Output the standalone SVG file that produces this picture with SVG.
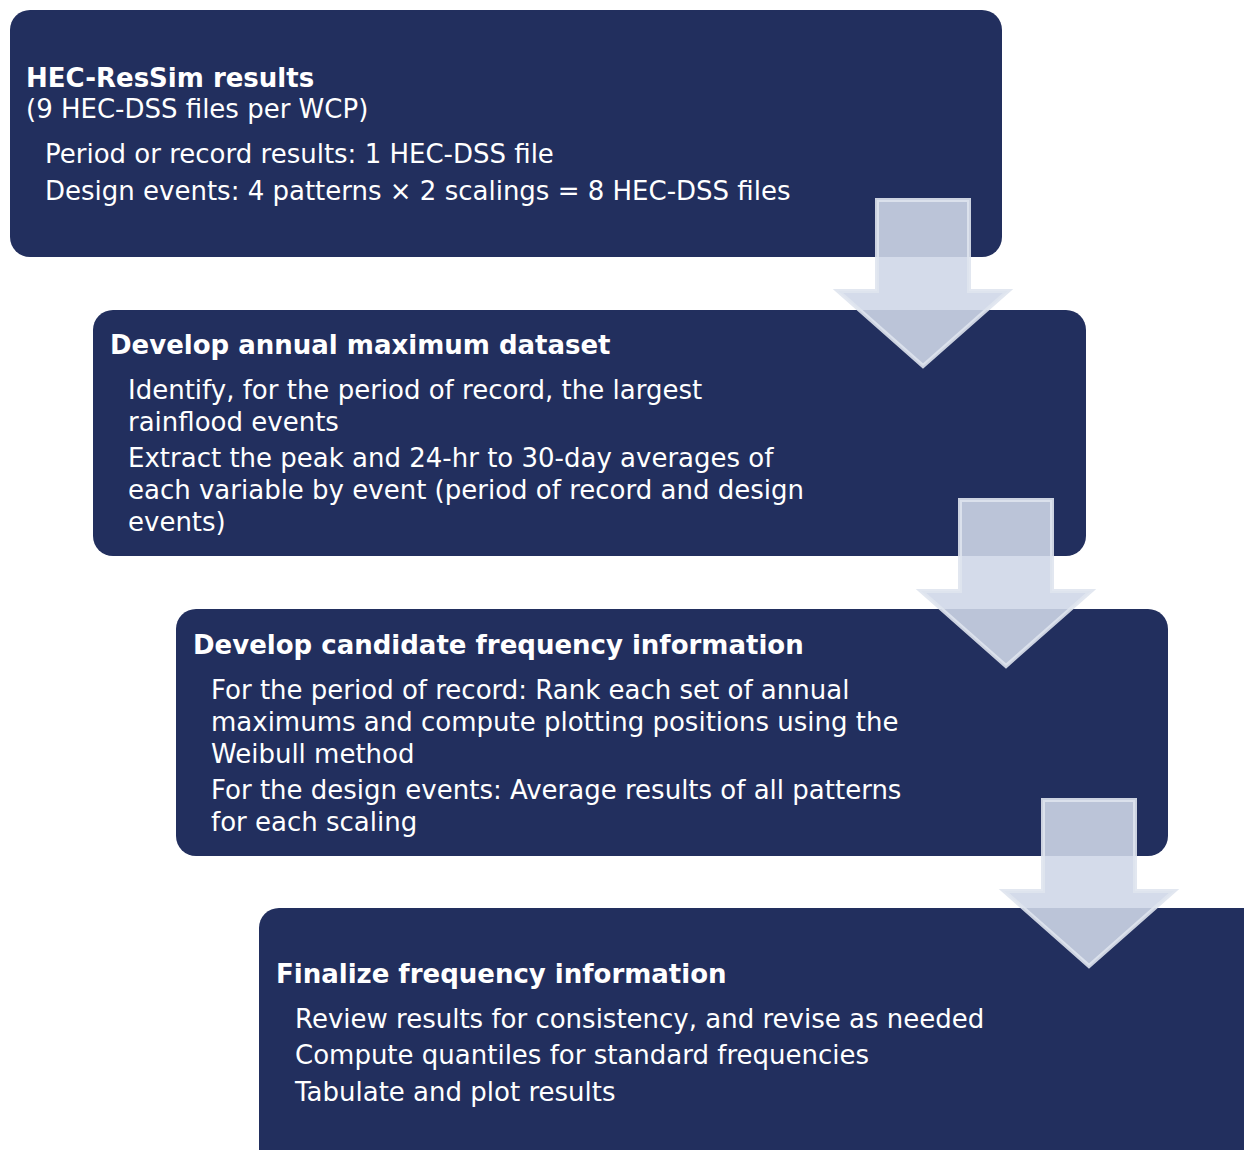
<svg xmlns="http://www.w3.org/2000/svg" width="1244" height="1150" viewBox="0 0 1244 1150">
<style>
.box{fill:#222f5e}
.t{font-family:"DejaVu Sans",Verdana,sans-serif;font-size:26px;fill:#ffffff}
.b{font-weight:bold}
.arrow{fill:#cfd7e7;fill-opacity:0.89;stroke:#dfe4ee;stroke-opacity:0.9;stroke-width:4;stroke-linejoin:miter}
</style>
<rect width="1244" height="1150" fill="#ffffff"/>
<g id="node1">
<rect class="box" x="10" y="10" width="992" height="247" rx="20"/>
<text class="t b" x="26" y="87">HEC-ResSim results</text>
<text class="t" x="26" y="118">(9 HEC-DSS files per WCP)</text>
<text class="t" x="45" y="163">Period or record results: 1 HEC-DSS file</text>
<text class="t" x="45" y="200">Design events: 4 patterns × 2 scalings = 8 HEC-DSS files</text>
</g>
<g id="node2">
<rect class="box" x="93" y="310" width="993" height="246" rx="20"/>
<text class="t b" x="110" y="354">Develop annual maximum dataset</text>
<text class="t" x="128" y="399">Identify, for the period of record, the largest</text>
<text class="t" x="128" y="431">rainflood events</text>
<text class="t" x="128" y="467">Extract the peak and 24-hr to 30-day averages of</text>
<text class="t" x="128" y="499">each variable by event (period of record and design</text>
<text class="t" x="128" y="531">events)</text>
</g>
<g id="node3">
<rect class="box" x="176" y="609" width="992" height="247" rx="20"/>
<text class="t b" x="193" y="654">Develop candidate frequency information</text>
<text class="t" x="211" y="699">For the period of record: Rank each set of annual</text>
<text class="t" x="211" y="731">maximums and compute plotting positions using the</text>
<text class="t" x="211" y="763">Weibull method</text>
<text class="t" x="211" y="799">For the design events: Average results of all patterns</text>
<text class="t" x="211" y="831">for each scaling</text>
</g>
<g id="node4">
<rect class="box" x="259" y="908" width="1010" height="280" rx="20"/>
<text class="t b" x="276" y="983">Finalize frequency information</text>
<text class="t" x="295" y="1028">Review results for consistency, and revise as needed</text>
<text class="t" x="295" y="1064">Compute quantiles for standard frequencies</text>
<text class="t" x="295" y="1101">Tabulate and plot results</text>
</g>
<g id="connectors">
<path class="arrow" d="M877,200 H969 V291 H1008 L923,366 L838,291 H877 Z"/>
<path class="arrow" d="M960,500 H1052 V591 H1091 L1006,666 L921,591 H960 Z"/>
<path class="arrow" d="M1043,800 H1135 V891 H1174 L1089,966 L1004,891 H1043 Z"/>
</g>
</svg>
